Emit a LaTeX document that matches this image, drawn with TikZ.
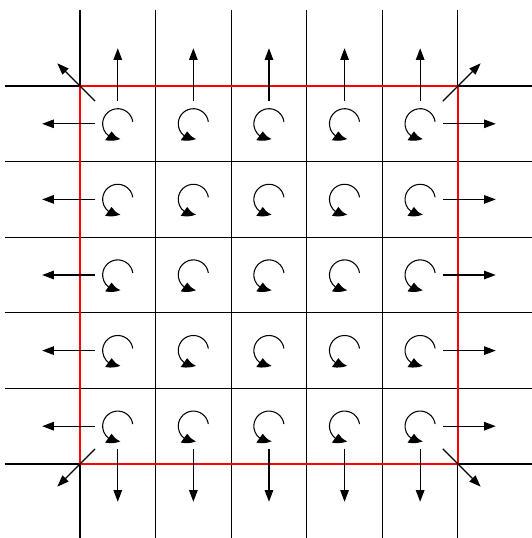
\documentclass[tikz,border=0pt]{standalone}
\usetikzlibrary{arrows.meta,bending}
\tikzset{
  flux/.style={-{Triangle[length=4.4pt,width=3.2pt]},line width=0.45pt},
  spin/.style={-{Triangle[length=4.8pt,width=4pt,bend]},line width=0.4pt},
  gridline/.style={line width=0.4pt},
  border/.style={red,line width=0.8pt}
}
\begin{document}
\begin{tikzpicture}
  \useasboundingbox (-1.058,-0.979) rectangle (5.979,6.138);

  % grid
  \foreach \i in {0,...,5} {
    \draw[gridline] (\i,-0.979) -- (\i,6.005);
    \draw[gridline] (-0.992,\i) -- (5.979,\i);
  }
  \draw[border] (0,0) rectangle (5,5);

  % cells and circulations
  \foreach \i in {0,...,4} {
    \foreach \j in {0,...,4} {
      \coordinate (c\i\j) at (\i+0.5,\j+0.5);
      \draw[spin] ([shift={(8:0.2)}]c\i\j) arc[start angle=8,end angle=280,radius=0.2];
    }
  }

  % outgoing arrows on the edges
  \foreach \k in {0,...,4} {
    \draw[flux] ([xshift=-0.3cm]c0\k) -- ([xshift=-1cm]c0\k);
    \draw[flux] ([xshift=0.3cm]c4\k) -- ([xshift=1cm]c4\k);
    \draw[flux] ([yshift=0.3cm]c\k4) -- ([yshift=1cm]c\k4);
    \draw[flux] ([yshift=-0.3cm]c\k0) -- ([yshift=-1cm]c\k0);
  }

  % corners
  \draw[flux] ([shift={(-0.3,0.3)}]c04) -- ([shift={(-0.8,0.8)}]c04);
  \draw[flux] ([shift={(0.3,0.3)}]c44) -- ([shift={(0.8,0.8)}]c44);
  \draw[flux] ([shift={(-0.3,-0.3)}]c00) -- ([shift={(-0.8,-0.8)}]c00);
  \draw[flux] ([shift={(0.3,-0.3)}]c40) -- ([shift={(0.8,-0.8)}]c40);
\end{tikzpicture}
\end{document}
